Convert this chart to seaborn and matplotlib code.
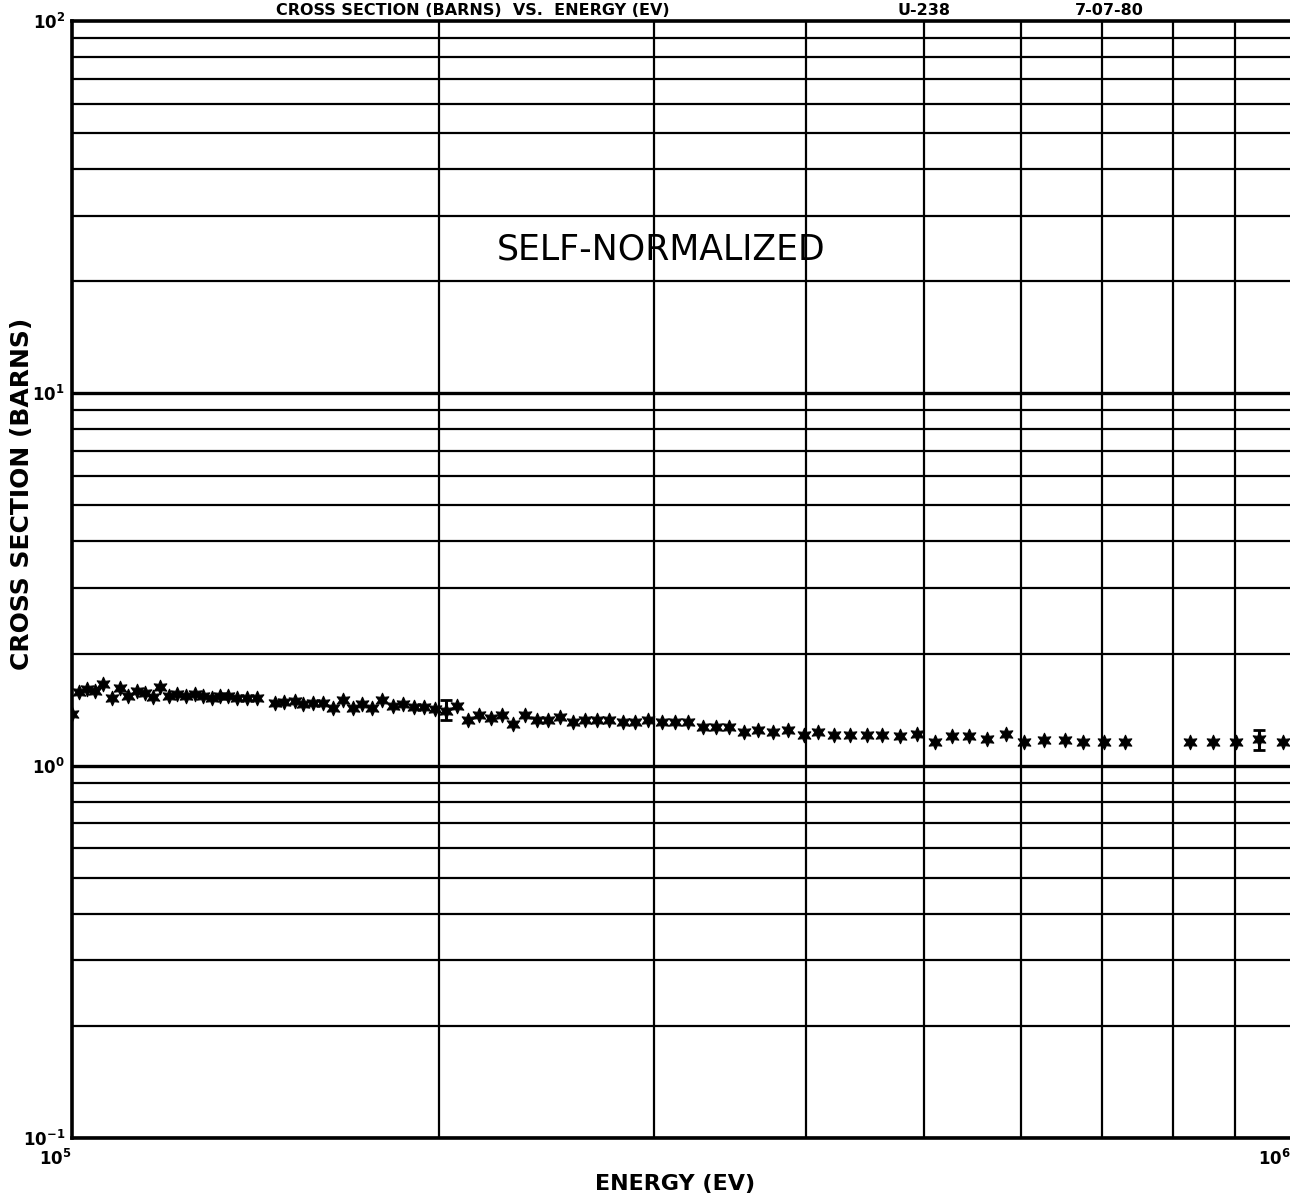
import numpy as np
import pandas as pd
import matplotlib
matplotlib.use("Agg")
import matplotlib.pyplot as plt
import seaborn as sns

sns.set_style("white")
plt.rcParams['font.family'] = ['DejaVu Sans']
plt.rcParams['text.color'] = 'black'

# --------------------------
# Data (energy in eV, cross section in barns)
# --------------------------
energy = [1.000e5, 1.013e5, 1.029e5, 1.044e5, 1.060e5, 1.079e5, 1.095e5, 1.112e5,
          1.131e5, 1.148e5, 1.165e5, 1.181e5, 1.201e5, 1.219e5, 1.240e5, 1.262e5,
          1.281e5, 1.302e5, 1.322e5, 1.343e5, 1.366e5, 1.392e5, 1.418e5,
          1.467e5, 1.493e5, 1.524e5, 1.547e5, 1.577e5, 1.607e5, 1.637e5, 1.668e5,
          1.700e5, 1.729e5, 1.762e5, 1.796e5, 1.834e5, 1.869e5, 1.908e5, 1.944e5,
          1.985e5, 2.027e5, 2.069e5, 2.113e5, 2.157e5, 2.207e5, 2.253e5, 2.300e5,
          2.353e5, 2.407e5, 2.457e5, 2.513e5, 2.576e5, 2.635e5, 2.695e5, 2.757e5,
          2.831e5, 2.896e5, 2.968e5, 3.048e5, 3.124e5, 3.202e5, 3.294e5, 3.375e5,
          3.460e5, 3.559e5, 3.654e5, 3.759e5, 3.867e5, 3.986e5, 4.093e5, 4.218e5,
          4.347e5, 4.490e5, 4.619e5, 4.778e5, 4.934e5, 5.105e5, 5.271e5, 5.444e5,
          5.631e5, 5.837e5, 6.039e5, 6.272e5, 6.525e5, 6.751e5, 7.024e5, 7.308e5,
          8.262e5, 8.630e5, 9.014e5, 9.413e5, 9.849e5]
xsec = [1.38, 1.58, 1.61, 1.59, 1.66, 1.52, 1.62, 1.54,
        1.59, 1.57, 1.53, 1.63, 1.54, 1.56, 1.54, 1.56,
        1.54, 1.52, 1.54, 1.54, 1.52, 1.52, 1.52,
        1.47, 1.48, 1.49, 1.46, 1.47, 1.47, 1.43, 1.50,
        1.43, 1.46, 1.43, 1.50, 1.45, 1.46, 1.44, 1.44,
        1.42, 1.40, 1.45, 1.33, 1.37, 1.34, 1.37, 1.29,
        1.37, 1.33, 1.33, 1.35, 1.31, 1.33, 1.33, 1.33,
        1.31, 1.31, 1.33, 1.31, 1.31, 1.31, 1.27, 1.27,
        1.27, 1.23, 1.25, 1.23, 1.25, 1.21, 1.23, 1.21,
        1.21, 1.21, 1.21, 1.20, 1.22, 1.16, 1.20, 1.20,
        1.18, 1.22, 1.16, 1.17, 1.17, 1.16, 1.16, 1.16,
        1.16, 1.16, 1.16, 1.18, 1.16]

# points that carry a visible error bar
err_energy = [2.027e5, 9.413e5]
err_value = [1.40, 1.18]
err_low = [1.33, 1.10]
err_high = [1.50, 1.25]

df = pd.DataFrame({"energy": energy, "xsec": xsec})

# --------------------------
# Figure
# --------------------------
fig = plt.figure(figsize=(12.9, 12.04), dpi=100)
ax = fig.add_axes([72 / 1290, 66 / 1204, 1219 / 1290, 1117 / 1204])
ax.set_xscale("log")
ax.set_yscale("log")
ax.set_xlim(1e5, 1e6)
ax.set_ylim(1e-1, 1e2)

# grid lines like the old plotter: every 1..9 of each decade
for dec in [0.1, 1, 10]:
    for m in range(1, 10):
        lw = 2.4 if m == 1 else 1.6
        ax.axhline(dec * m, color="black", lw=lw, zorder=1)
for m in range(2, 10):
    ax.axvline(1e5 * m, color="black", lw=1.6, zorder=1)

six_star = (6, 1, 0)
sns.scatterplot(data=df, x="energy", y="xsec", marker=six_star, s=110,
                color="black", edgecolor="black", linewidth=0.8, ax=ax, zorder=3)

yerr = [np.array(err_value) - np.array(err_low), np.array(err_high) - np.array(err_value)]
ax.errorbar(err_energy, err_value, yerr=yerr, fmt="none", ecolor="black",
            elinewidth=2.2, capsize=4, capthick=2, zorder=3)

for side in ["left", "bottom", "top", "right"]:
    ax.spines[side].set_color("black")
    ax.spines[side].set_linewidth(2.6)

ax.set_xticks([1e5, 1e6], labels=[r"$\mathbf{10^5}$", r"$\mathbf{10^6}$"], minor=False)
ax.set_xticks([], minor=True)
ax.set_yticks([1e-1, 1, 10, 100],
              labels=[r"$\mathbf{10^{-1}}$", r"$\mathbf{10^{0}}$", r"$\mathbf{10^{1}}$", r"$\mathbf{10^{2}}$"])
ax.set_yticks([], minor=True)
ax.tick_params(axis="both", length=0, labelsize=12, labelcolor="black")
ax.tick_params(axis="y", pad=5)
ax.tick_params(axis="x", pad=8)
for lab in ax.get_xticklabels():
    lab.set_ha("right")

ax.set_xlabel("ENERGY (EV)", fontsize=16, fontweight="bold", color="black")
ax.xaxis.set_label_coords(0.495, -0.032)
ax.set_ylabel("CROSS SECTION (BARNS)", fontsize=18, fontweight="bold", color="black")
ax.yaxis.set_label_coords(-0.031, 0.577)

ax.text(0.483, 0.795, "SELF-NORMALIZED", transform=ax.transAxes, fontsize=25,
        ha="center", va="center", color="black")

# header line squeezed into the strip above the frame
fig.text(473 / 1290, 1 - 3 / 1204, "CROSS SECTION (BARNS)  VS.  ENERGY (EV)", fontsize=11.5,
         fontweight="bold", ha="center", va="top", color="black")
fig.text(924 / 1290, 1 - 3 / 1204, "U-238", fontsize=11.5, fontweight="bold",
         ha="center", va="top", color="black")
fig.text(1109 / 1290, 1 - 3 / 1204, "7-07-80", fontsize=11.5, fontweight="bold",
         ha="center", va="top", color="black")

fig.savefig("out.png", dpi=100)
